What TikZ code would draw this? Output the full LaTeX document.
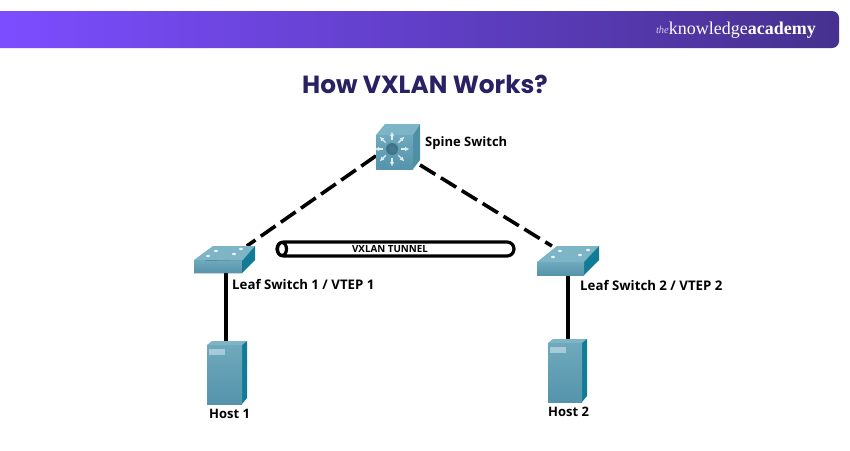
\documentclass[tikz,border=0pt]{standalone}
\usepackage{fontspec}
\setmainfont{Open Sans}
\newfontfamily\popfont{Poppins}
\newfontfamily\logofont{Liberation Serif}
\usetikzlibrary{arrows.meta}
\definecolor{bannerL}{HTML}{7C4DFF}
\definecolor{bannerM}{HTML}{5E3BBE}
\definecolor{bannerR}{HTML}{46318F}
\definecolor{titleC}{HTML}{2A2163}
\definecolor{faceC}{HTML}{5B9DB4}
\definecolor{faceD}{HTML}{5594AB}
\definecolor{topC}{HTML}{7DB4C6}
\definecolor{sideC}{HTML}{127C96}
\definecolor{sideS}{HTML}{4E8FA6}
\definecolor{screenC}{HTML}{A5CBD8}
\definecolor{ballC}{HTML}{3F7186}
\tikzset{
  x=1pt,y=-1pt,
  box/.style={inner sep=0pt,outer sep=0pt,draw=none},
  devlabel/.style={inner sep=0pt,anchor=west,font=\bfseries\fontsize{13}{15}\selectfont,text=black},
  leaflabel/.style={devlabel,font=\bfseries\fontsize{13.25}{15}\selectfont},
  dashlink/.style={line width=3.6pt,black,dash pattern=on 18pt off 6.5pt},
  solidlink/.style={line width=3.6pt,black},
  front/.style={bottom color=faceD,top color=faceC!88!white},
  topface/.style={fill=topC},
  sideface/.style={fill=sideC},
}
\begin{document}
\begin{tikzpicture}
\useasboundingbox (0,0) rectangle (850,450);
\fill[white] (0,0) rectangle (850,450);
% banner
\path[left color=bannerL,middle color=bannerM,right color=bannerR]
  (0,11) {[rounded corners=7pt] -- (839,11) -- (839,48)} -- (0,48) -- cycle;
\node[box,anchor=west,text=white!75!bannerR,font=\logofont\itshape\fontsize{10.5}{12}\selectfont] (logoa) at (656,30) {the};
\node[box,anchor=west,text=white,font=\logofont\fontsize{18}{20}\selectfont] (logob) at (logoa.east) {knowledge};
\node[box,anchor=west,text=white,font=\logofont\bfseries\fontsize{18}{20}\selectfont] (logoc) at (logob.east) {academy};
% title
\node[box,text=titleC,font=\popfont\bfseries\fontsize{24.8}{28}\selectfont] (title) at (425,84) {How VXLAN Works?};
% anchors of the devices
\node[box,minimum width=44pt,minimum height=45pt] (spine) at (398,146.5) {};
\node[box,minimum width=64pt,minimum height=27pt] (leafa) at (226,259.5) {};
\node[box,minimum width=62pt,minimum height=29pt] (leafb) at (568,260.5) {};
\node[box,minimum width=42pt,minimum height=63pt] (hosta) at (226,372.5) {};
\node[box,minimum width=40pt,minimum height=63pt] (hostb) at (568,370.5) {};
% connectors
\draw[dashlink] (spine.203) -- (leafa.33);
\draw[dashlink] (spine.-40) -- (leafb.138);
\draw[solidlink] (leafa.south) -- (hosta.north);
\draw[solidlink] (leafb.south) -- (hostb.north);
% spine switch
\fill[topface] (376,135) -- (385,124) -- (420,124) -- (413,135) -- cycle;
\fill[fill=sideS] (413,135) -- (420,124) -- (420,160) -- (413,169) -- cycle;
\fill[front] (376,135) rectangle (413,169);
\shade[inner color=ballC!70!faceC,outer color=ballC] (392,149) circle (6pt);
\foreach \a in {0,45,...,315}{
  \draw[white!80!faceC,line width=1.4pt,-{Latex[length=4.5pt,width=4.5pt]}] (392,149) ++(\a:9) -- ++(\a:8.5);
}
% leaf 1
\fill[topface] (194,260) -- (213,246) -- (255,246) -- (242,261) -- cycle;
\fill[sideface] (242,261) -- (255,246) -- (255,260) -- (242,273) -- cycle;
\fill[front] (194,260) -- (242,261) -- (242,273) -- (194,273) -- cycle;
\foreach \p/\q in {208/256,216/251,234/254,241/249}{\fill[white!85!topC] (\p,\q) ellipse (2pt and 1.2pt);}
% leaf 2
\fill[topface] (537,262) -- (557,246) -- (599,246) -- (584,262) -- cycle;
\fill[sideface] (584,262) -- (599,246) -- (599,260) -- (584,275) -- cycle;
\fill[front] (537,262) rectangle (584,275);
\foreach \p/\q in {553/257,560/251,580/255,588/250}{\fill[white!85!topC] (\p,\q) ellipse (2pt and 1.2pt);}
% host 1
\fill[topface] (207,345) -- (212,341) -- (247,341) -- (242,345) -- cycle;
\fill[sideface] (242,345) -- (247,341) -- (247,398) -- (242,404) -- cycle;
\fill[front] (207,345) rectangle (242,404);
\fill[screenC] (209,349) rectangle (225,355);
% host 2
\fill[topface] (548,343) -- (553,339) -- (587,339) -- (582,343) -- cycle;
\fill[sideface] (582,343) -- (587,339) -- (587,396) -- (582,402) -- cycle;
\fill[front] (548,343) rectangle (582,402);
\fill[screenC] (550,347) rectangle (566,353);
% tunnel
\node[draw=black,line width=3.2pt,rounded corners=7pt,minimum width=237pt,minimum height=14pt,inner sep=0pt,fill=white] (tunnel) at (395.5,249) {};
\draw[line width=3.2pt,black,fill=white] (282,249) ellipse (4.5pt and 6.5pt);
\node[box,font=\bfseries\fontsize{9.8}{11}\selectfont] (tunnellabel) at (390,249) {VXLAN TUNNEL};
% labels
\node[devlabel] (spinelabel) at (425,143) {Spine Switch};
\node[leaflabel] (leafalabel) at (232,284) {Leaf Switch 1 / VTEP 1};
\node[leaflabel] (leafblabel) at (580,285) {Leaf Switch 2 / VTEP 2};
\node[devlabel] (hostalabel) at (209,414) {Host 1};
\node[devlabel] (hostblabel) at (548,412) {Host 2};
\end{tikzpicture}
\end{document}
